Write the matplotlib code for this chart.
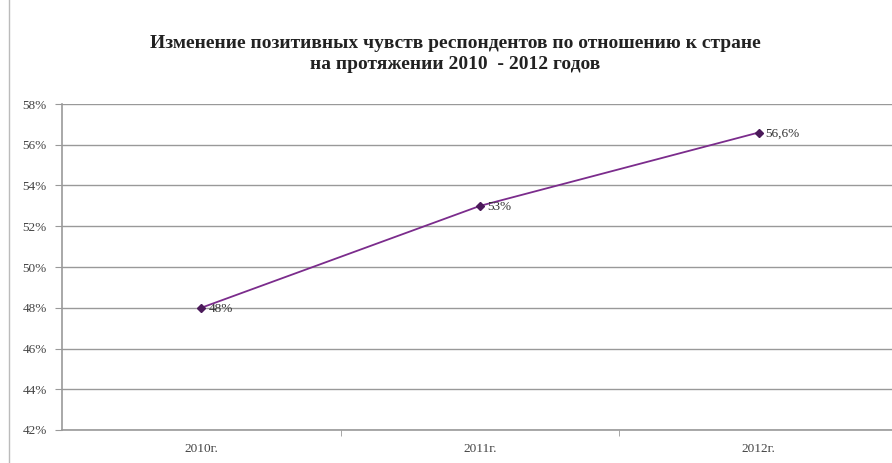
import matplotlib.pyplot as plt
from matplotlib.ticker import FuncFormatter

years = ['2010г.', '2011г.', '2012г.']
values = [0.48, 0.53, 0.566]
labels = ['48%', '53%', '56,6%']
title = 'Изменение позитивных чувств респондентов по отношению к стране\nна протяжении 2010  - 2012 годов'

plt.rcParams['font.family'] = ['Liberation Serif', 'DejaVu Serif']

fig = plt.figure(figsize=(8.92, 4.63), dpi=100)
# ось выходит немного за правый край, как на исходной картинке
ax = fig.add_axes([62 / 892, 1 - 430 / 463, (898 - 62) / 892, (430 - 104) / 463])

x = list(range(len(years)))
ax.plot(x, values, color='#7B2C8C', lw=1.3, marker='D', ms=4,
        markerfacecolor='#4B1A5A', markeredgecolor='#4B1A5A', zorder=3)
for xi, v, lab in zip(x, values, labels):
    ax.annotate(lab, (xi, v), xytext=(5, -1), textcoords='offset points',
                ha='left', va='center', fontsize=9.5, color='#333333')

ax.set_xlim(-0.5, 2.5)
ax.set_ylim(0.42, 0.58)
ax.set_yticks([0.42 + 0.02 * i for i in range(9)])
ax.yaxis.set_major_formatter(FuncFormatter(lambda v, p: f'{v * 100:.0f}%'))
ax.set_xticks(x)
ax.set_xticklabels(years)
ax.set_xticks([0.5, 1.5], minor=True)

ax.grid(axis='y', color='#999999', lw=1)
ax.set_axisbelow(True)
for s in ['top', 'right']:
    ax.spines[s].set_visible(False)
for s in ['left', 'bottom']:
    ax.spines[s].set_color('#999999')
    ax.spines[s].set_linewidth(1.2)

ax.tick_params(axis='y', length=5, color='#999999', labelsize=9.5, labelcolor='#444444', pad=6)
ax.tick_params(axis='x', which='major', length=0, labelsize=9.5, labelcolor='#444444', pad=9)
ax.tick_params(axis='x', which='minor', length=4, color='#999999', direction='out')

fig.text(0.51, 1 - 54 / 463, title, ha='center', va='center', fontsize=14,
         fontweight='bold', linespacing=1.35, color='#222222')

# рамка слева от области диаграммы
fig.add_artist(plt.Line2D([9 / 892, 9 / 892], [0, 1], color='#bbbbbb', lw=1))

fig.savefig('out.png', dpi=100)
